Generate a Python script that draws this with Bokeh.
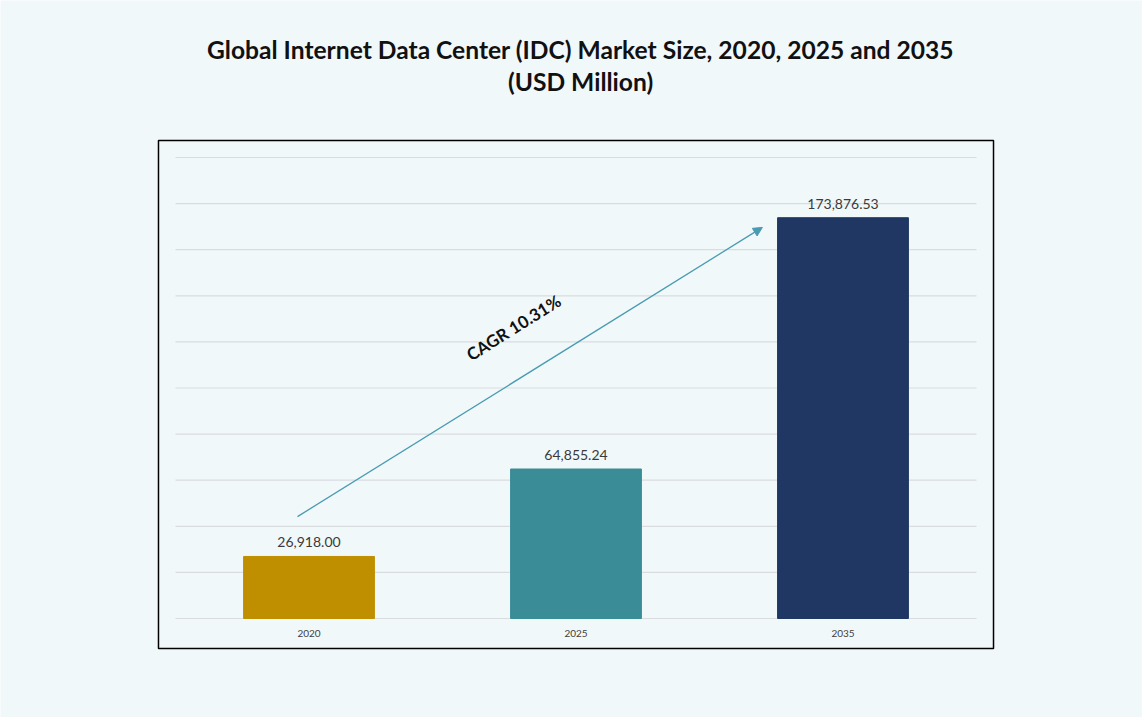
from bokeh.plotting import figure
from bokeh.models import Range1d, BoxAnnotation, Arrow, NormalHead
from bokeh.core.properties import value
from bokeh.embed import file_html
from bokeh.resources import INLINE
import math

# Market size (USD Million)
years = ["2020", "2025", "2035"]
sizes = [26918.00, 64855.24, 173876.53]
size_labels = ["26,918.00", "64,855.24", "173,876.53"]
bar_colors = ["#BF8F00", "#3A8D97", "#1F3762"]
grid_values = list(range(0, 200001, 20000))
cagr_text = "CAGR 10.31%"
title_lines = ["Global Internet Data Center (IDC) Market Size, 2020, 2025 and 2035",
               "(USD Million)"]

BG = "#F1F8FA"
FONT = "Lato"

centers = [i + 0.5 for i in range(len(years))]

# the drawing area spans the whole page; the chart box is drawn inside it
p = figure(
    width=1142, height=717,
    x_range=Range1d(-0.6554, 3.6217),
    y_range=Range1d(-42950, 268113),
    output_backend="svg", toolbar_location=None,
    min_border=0,
    background_fill_color=BG, border_fill_color=BG,
    outline_line_color=None,
)
p.xaxis.visible = False
p.yaxis.visible = False
p.grid.visible = False

# chart box
p.add_layout(BoxAnnotation(left=-0.0637, right=3.0637, bottom=-13015, top=207375,
                           fill_color=None, fill_alpha=0, line_color="black",
                           line_alpha=1.0, line_width=1.5))

# two-line heading
p.text(x=[1.517, 1.517], y=[246850, 232970], text=title_lines,
       text_align="center", text_baseline="middle", text_font=value(FONT),
       text_font_size="24.6px", text_font_style="bold", text_color="#111111")

# horizontal guide lines
p.segment(x0=[0] * len(grid_values), x1=[len(years)] * len(grid_values),
          y0=grid_values, y1=grid_values, line_color="#D9DDE0", line_width=1.2)

# bars
p.vbar(x=centers, top=sizes, width=0.49, color=bar_colors)

# value labels
p.text(x=centers, y=sizes, text=size_labels, text_align="center",
       text_baseline="bottom", y_offset=-9, text_font=value(FONT),
       text_font_size="14px", text_color="#3A3A3A")

# category labels under each bar
p.text(x=centers, y=[0] * len(years), text=years, text_align="center",
       text_baseline="middle", y_offset=15, text_font=value(FONT),
       text_font_size="10px", text_color="#404040")

# growth arrow from the first bar towards the last one
x_start, y_start = centers[0] - 0.043, sizes[0] + 17300
x_end, y_end = centers[-1] - 0.302, sizes[-1] - 4200
p.add_layout(Arrow(x_start=x_start, y_start=y_start, x_end=x_end, y_end=y_end,
                   line_color="#4A9BB2", line_width=1.3,
                   end=NormalHead(size=9, fill_color="#4A9BB2", line_color="#4A9BB2")))

angle = math.radians(32)
p.text(x=[1.266], y=[126200], text=[cagr_text], angle=angle,
       text_align="center", text_baseline="middle", text_font=value(FONT),
       text_font_size="17px", text_font_style="bold", text_color="#111111")

open("out.html", "w").write(file_html(p, INLINE))
